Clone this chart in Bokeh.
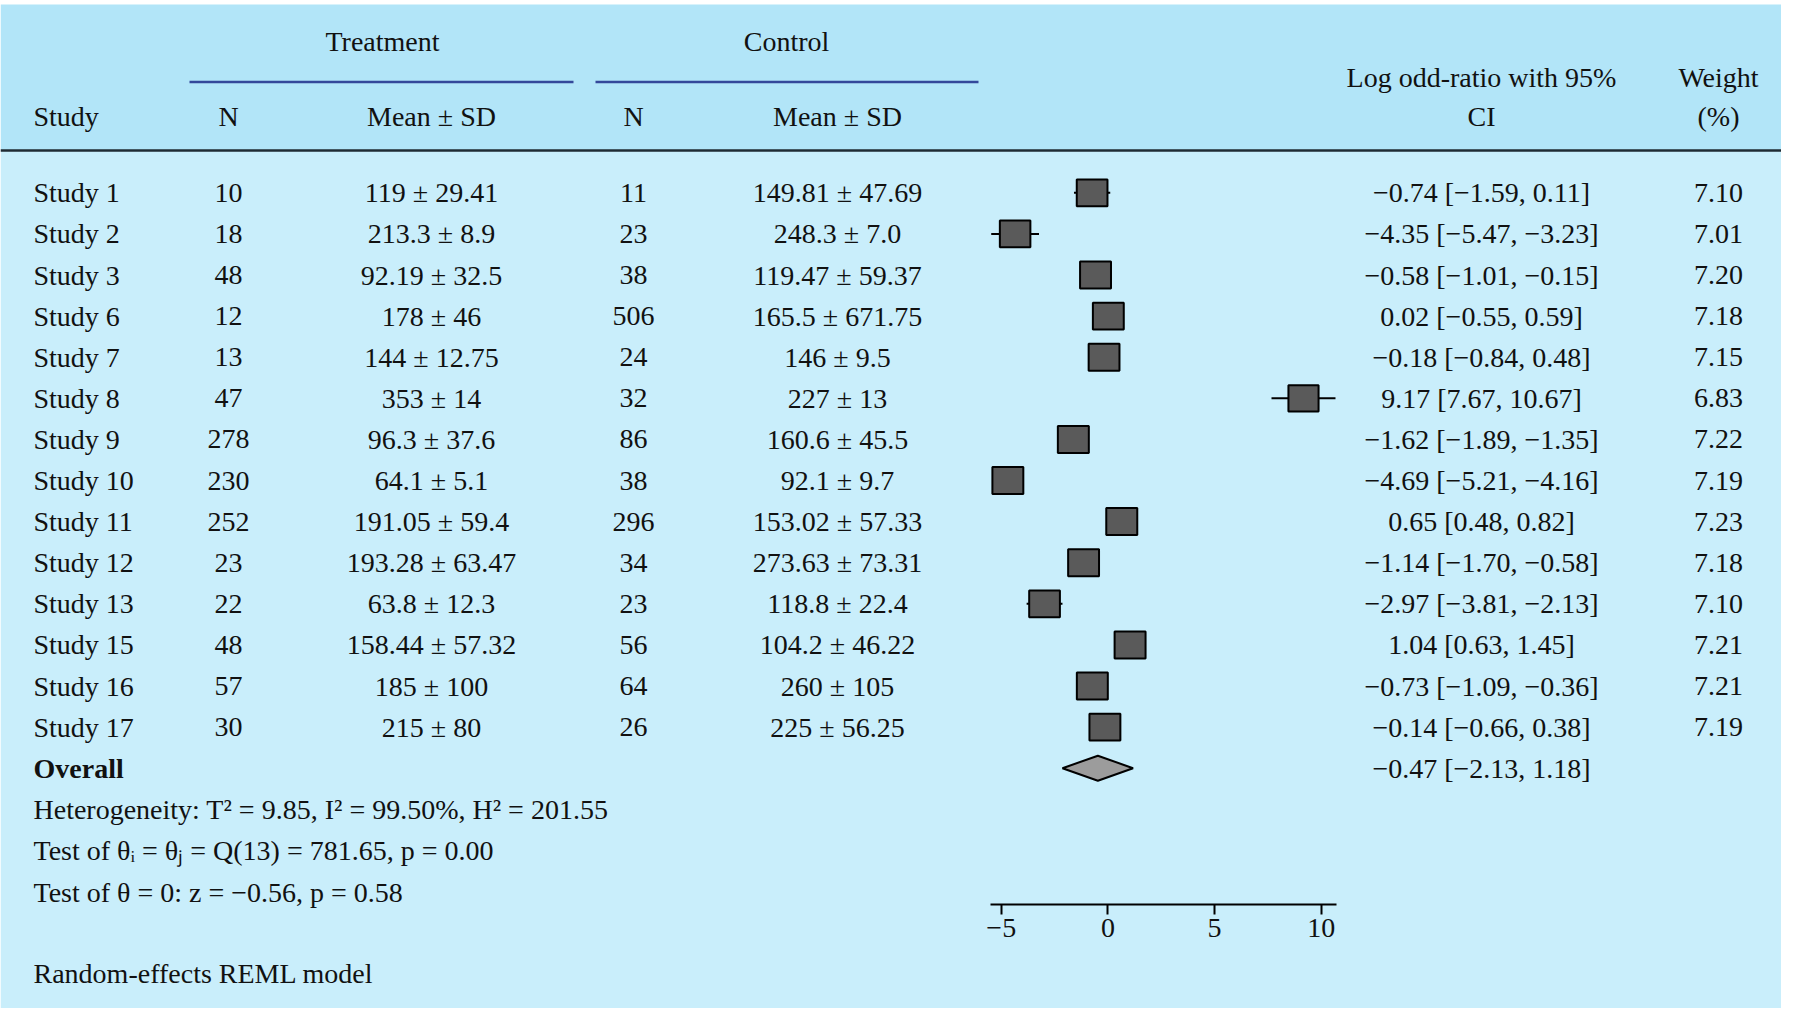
from bokeh.plotting import figure
from bokeh.models import Range1d, LinearAxis, FixedTicker, ColumnDataSource
from bokeh.core.properties import value
from bokeh.embed import file_html
from bokeh.resources import INLINE
import math

# ---------------- data ----------------
studies = ["Study 1", "Study 2", "Study 3", "Study 6", "Study 7", "Study 8", "Study 9",
           "Study 10", "Study 11", "Study 12", "Study 13", "Study 15", "Study 16", "Study 17"]
treat_n = [10, 18, 48, 12, 13, 47, 278, 230, 252, 23, 22, 48, 57, 30]
treat_msd = ["119 ± 29.41", "213.3 ± 8.9", "92.19 ± 32.5", "178 ± 46", "144 ± 12.75",
             "353 ± 14", "96.3 ± 37.6", "64.1 ± 5.1", "191.05 ± 59.4", "193.28 ± 63.47",
             "63.8 ± 12.3", "158.44 ± 57.32", "185 ± 100", "215 ± 80"]
ctrl_n = [11, 23, 38, 506, 24, 32, 86, 38, 296, 34, 23, 56, 64, 26]
ctrl_msd = ["149.81 ± 47.69", "248.3 ± 7.0", "119.47 ± 59.37", "165.5 ± 671.75", "146 ± 9.5",
            "227 ± 13", "160.6 ± 45.5", "92.1 ± 9.7", "153.02 ± 57.33", "273.63 ± 73.31",
            "118.8 ± 22.4", "104.2 ± 46.22", "260 ± 105", "225 ± 56.25"]
lor = [-0.74, -4.35, -0.58, 0.02, -0.18, 9.17, -1.62, -4.69, 0.65, -1.14, -2.97, 1.04, -0.73, -0.14]
ci_lo = [-1.59, -5.47, -1.01, -0.55, -0.84, 7.67, -1.89, -5.21, 0.48, -1.70, -3.81, 0.63, -1.09, -0.66]
ci_hi = [0.11, -3.23, -0.15, 0.59, 0.48, 10.67, -1.35, -4.16, 0.82, -0.58, -2.13, 1.45, -0.36, 0.38]
weights = [7.10, 7.01, 7.20, 7.18, 7.15, 6.83, 7.22, 7.19, 7.23, 7.18, 7.10, 7.21, 7.21, 7.19]
overall_est = -0.47
overall_lo = -2.13
overall_hi = 1.18
axis_ticks = [-5, 0, 5, 10]

header_top = ["Treatment", "Control"]
header_cols = ["Study", "N", "Mean ± SD", "N", "Mean ± SD"]
het_text = "Heterogeneity: T\u00b2 = 9.85, I\u00b2 = 99.50%, H\u00b2 = 201.55"
test1_text = "Test of \u03b8\u1d62 = \u03b8\u2c7c = Q(13) = 781.65, p = 0.00"
test2_text = "Test of \u03b8 = 0: z = \u22120.56, p = 0.58"
model_text = "Random-effects REML model"

# ---------------- helpers ----------------
def fmt(v):
    return f"{v:.2f}".replace("-", "\u2212")

FONT = "Liberation Serif"
FS = "28px"
INK = "#111111"

# figure geometry (pixel space of the picture)
W, H = 1781, 1008
X0, X1 = 0, W
Y0, Y1 = 0, H

# forest scale: pixels per log-odds unit and position of zero
LOR_ZERO = 1107.4
LOR_PX = 21.33
# rows
ROW0 = 192.3
ROW_PX = 41.1

p = figure(width=W, height=H, x_range=Range1d(X0, X1), y_range=Range1d(Y1, Y0),
           x_axis_type=None, y_axis_type=None, toolbar_location=None,
           output_backend="svg", min_border=0, background_fill_color="white",
           border_fill_color="white", outline_line_color=None)
p.extra_x_ranges = {"lor": Range1d((X0 - LOR_ZERO) / LOR_PX, (X1 - LOR_ZERO) / LOR_PX)}
p.extra_y_ranges = {"rows": Range1d((Y1 - ROW0) / ROW_PX, (Y0 - ROW0) / ROW_PX)}

# backgrounds
p.quad(left=0, right=1797, top=4, bottom=150, fill_color="#b2e5f8", line_color=None)
p.quad(left=0, right=1797, top=150, bottom=1012, fill_color="#c9eefb", line_color=None)
p.segment(x0=0, x1=1797, y0=150, y1=150, line_color="#1f2b33", line_width=2.5)
# group underlines
p.segment(x0=[189, 595], x1=[573, 978], y0=[81.5, 81.5], y1=[81.5, 81.5],
          line_color="#34489a", line_width=2.5)

def txt(x, y, t, align="center", bold=False, **kw):
    p.text(x=x, y=y, text=t, text_align=align, text_baseline="middle",
           text_font=value(FONT), text_font_size=FS, text_color=INK,
           text_font_style="bold" if bold else "normal", **kw)

# headers
txt([382, 786], [41, 41], header_top)
txt([33], [116], ["Study"], align="left")
txt([228, 431, 633, 837], [116] * 4, header_cols[1:])
txt([1481, 1481], [77, 116], ["Log odd-ratio with 95%", "CI"])
txt([1718, 1718], [77, 116], ["Weight", "(%)"])

# table body
rows = list(range(len(studies)))
src = ColumnDataSource(dict(
    row=rows, study=studies, tn=[str(v) for v in treat_n], tm=treat_msd,
    cn=[str(v) for v in ctrl_n], cm=ctrl_msd,
    ci=[f"{fmt(e)} [{fmt(a)}, {fmt(b)}]" for e, a, b in zip(lor, ci_lo, ci_hi)],
    wt=[f"{w:.2f}" for w in weights],
    lor=lor, lo=ci_lo, hi=ci_hi,
    sw=[31 * math.sqrt(w / max(weights)) for w in weights],
    sh=[27 * math.sqrt(w / max(weights)) for w in weights],
))
for col, x, al in [("study", 33, "left"), ("tn", 228, "center"), ("tm", 431, "center"),
                   ("cn", 633, "center"), ("cm", 837, "center"), ("ci", 1481, "center"),
                   ("wt", 1718, "center")]:
    p.text(x=x, y="row", text=col, source=src, y_range_name="rows", text_align=al,
           text_baseline="middle", text_font=value(FONT), text_font_size=FS, text_color=INK)

# overall row
orow = len(studies)
p.text(x=[33], y=[orow], text=["Overall"], y_range_name="rows", text_align="left",
       text_baseline="middle", text_font=value(FONT), text_font_size=FS, text_color=INK,
       text_font_style="bold")
p.text(x=[1481], y=[orow], text=[f"{fmt(overall_est)} [{fmt(overall_lo)}, {fmt(overall_hi)}]"],
       y_range_name="rows", text_align="center", text_baseline="middle",
       text_font=value(FONT), text_font_size=FS, text_color=INK)

# notes
txt([33, 33, 33, 33], [809, 850, 891.5, 973], [het_text, test1_text, test2_text, model_text],
    align="left")

# forest marks
p.segment(x0="lo", x1="hi", y0="row", y1="row", source=src, x_range_name="lor",
          y_range_name="rows", line_color="black", line_width=2)
p.rect(x="lor", y="row", width="sw", height="sh", width_units="screen", height_units="screen",
       source=src, x_range_name="lor", y_range_name="rows", fill_color="#5a5a5a",
       line_color="black", line_width=2)
dh = 12.5 / ROW_PX
p.patch(x=[overall_lo, overall_est, overall_hi, overall_est],
        y=[orow, orow - dh, orow, orow + dh], x_range_name="lor", y_range_name="rows",
        fill_color="#9c9c9c", line_color="black", line_width=2)

# axis
ax = LinearAxis(x_range_name="lor", ticker=FixedTicker(ticks=axis_ticks),
                bounds=(-5.5, 10.7), fixed_location=904)
ax.axis_line_color = "black"
ax.axis_line_width = 2
ax.major_tick_line_color = "black"
ax.major_tick_line_width = 2
ax.major_tick_out = 10
ax.major_tick_in = 0
ax.minor_tick_out = 0
ax.minor_tick_in = 0
ax.major_label_standoff = 4
ax.major_label_text_font = FONT
ax.major_label_text_font_size = FS
ax.major_label_text_color = INK
ax.major_label_overrides = {t: fmt(t).replace(".00", "") for t in axis_ticks}
p.add_layout(ax, "below")

open("out.html", "w").write(file_html(p, INLINE))
